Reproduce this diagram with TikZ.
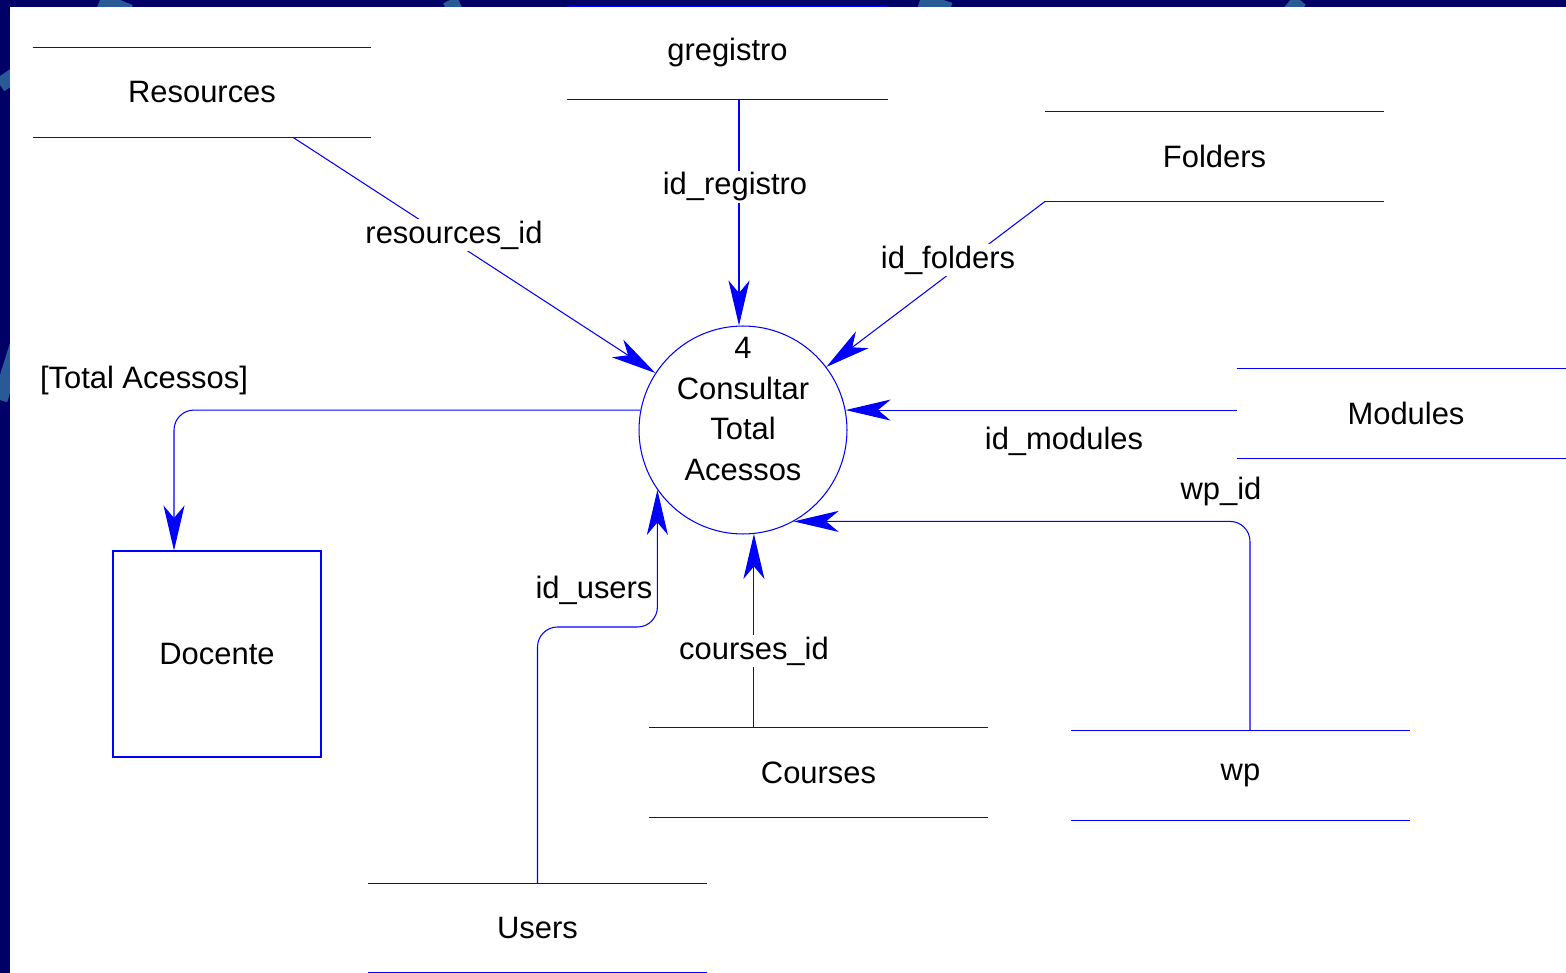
\documentclass[tikz,border=0pt]{standalone}
\usepackage{fontspec}
\setmainfont{Liberation Sans}
\usetikzlibrary{arrows.meta,positioning}
\definecolor{navy}{RGB}{0,0,102}
\definecolor{streak}{RGB}{40,90,150}
\tikzset{
  flow/.style={blue, line width=0.6pt},
  dfd/.style={flow, -{Stealth[length=0.9cm, width=0.42cm, inset=0.25cm]}},
  store/.style={minimum width=6.76cm, minimum height=1.78cm, inner sep=0pt},
  entity/.style={draw=blue, line width=0.6pt, minimum width=4.16cm, minimum height=4.12cm},
  lbl/.style={fill=white, inner sep=1pt},
}
\begin{document}
\begin{tikzpicture}[x=0.02cm, y=-0.02cm, font=\fontsize{17.6}{23.3}\selectfont]
\useasboundingbox (0,0) rectangle (1566,973);
% frame
\begin{scope}
\clip (0,0) rectangle (1566,973);
\fill[navy] (0,0) rectangle (1566,973);
\draw[streak, line width=0.3cm] (0,85) -- (30,65) (0,400) -- (25,320)
  (100,0) -- (130,12) (450,0) -- (455,10) (920,0) -- (950,10) (1290,12) -- (1300,0);
\fill[white] (10,7) rectangle (1566,973);
\end{scope}

% data stores
\node[store] (res) at (202,92.5) {Resources};
\node[store, minimum width=6.42cm, minimum height=1.84cm] (greg) at (727.5,53) {gregistro};
\node[store] (fold) at (1214.5,156.5) {Folders};
\node[store] (mod) at (1406,413.5) {Modules};
\node[store] (cour) at (818.5,772.5) {Courses};
\node[store] (wp) at (1240.5,775.5) {wp};
\node[store] (users) at (537.5,928) {Users};
\foreach \s in {res,greg,fold,mod,cour,wp,users}
  \draw[flow] (\s.north west) -- (\s.north east) (\s.south west) -- (\s.south east);

% process and entity
\node[circle, draw=blue, line width=0.6pt, minimum size=4.16cm] (proc) at (743,430) {};
\node[align=center] (proctxt) at ([yshift=0.42cm]proc.center) {4\\Consultar\\Total\\Acessos};
\node[entity] (doc) at (217,654) {Docente};

% flows
\draw[dfd] ([xshift=1.82cm]res.south) -- (proc);
\draw[dfd] ([xshift=-0.08cm]greg.south -| proc.north) -- ([xshift=-0.08cm]proc.north);
\draw[dfd] (fold.south west) -- (proc);
\draw[dfd] (mod.west |- proc.11) -- (proc.11);
\draw[dfd, rounded corners=0.4cm] ([xshift=0.19cm]wp.north) |- (proc.-61);
\draw[dfd] (proc.-84 |- cour.north) -- (proc.-84);
\coordinate (ubend) at (600,627);
\draw[dfd, rounded corners=0.4cm] (users.north) |- (ubend) -| (proc.215);
\draw[dfd, rounded corners=0.4cm] (proc.169) -| ([xshift=-0.86cm]doc.north);

% labels
\node[lbl] (lres) at (454,235) {resources\_id};
\node[lbl] (lreg) at (735,187) {id\_registro};
\node[lbl] (lfold) at (948,260) {id\_folders};
\node (lmod) at (1064,441) {id\_modules};
\node (lwp) at (1221,492) {wp\_id};
\node[lbl] (lcour) at (754,651) {courses\_id};
\node (lusers) at (594,590) {id\_users};
\node (ltot) at (144,381) {[Total Acessos]};
\end{tikzpicture}
\end{document}
